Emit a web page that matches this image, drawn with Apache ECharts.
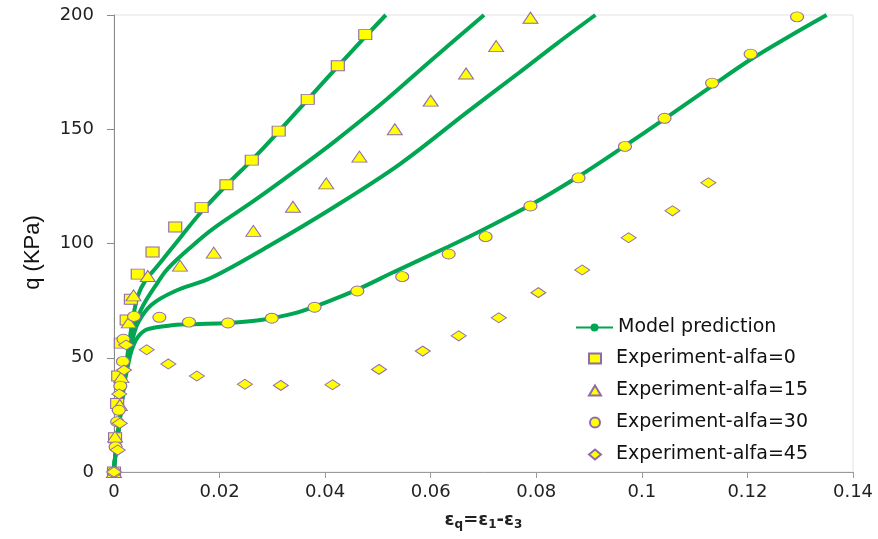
<!DOCTYPE html>
<html>
<head>
<meta charset="utf-8">
<script src="https://cdn.jsdelivr.net/npm/echarts@6/dist/echarts.min.js"></script>
<style>
html,body{margin:0;padding:0;background:#fff;}
#chart{width:878px;height:539px;}
</style>
</head>
<body>
<div id="chart"></div>
<script>
// ---- data ----
var xTicks = [0, 0.02, 0.04, 0.06, 0.08, 0.1, 0.12, 0.14];
var yTicks = [0, 50, 100, 150, 200];

var modelName = 'Model prediction';
var modelA = [[0,0],[0.0001,4],[0.0007,15.5],[0.0013,27],[0.0019,39],[0.0026,52],[0.0035,66],[0.0045,77],[0.006,84],[0.0082,90],[0.0127,103],[0.0166,114],[0.0213,125.5],[0.0261,136.5],[0.0312,149],[0.0367,163],[0.0424,177.5],[0.0476,190.5],[0.0515,200]];
var modelB = [[0,0],[0.0001,4],[0.0007,15.5],[0.0013,27],[0.0019,39],[0.0026,50],[0.0035,60],[0.0051,71],[0.0083,83],[0.0102,89],[0.0146,98.5],[0.0188,106.5],[0.0264,118.5],[0.0339,131],[0.0417,144.5],[0.0511,162],[0.06,180],[0.0701,200]];
var modelC = [[0,0],[0.0001,4],[0.0007,15.5],[0.0013,27],[0.0019,39],[0.0026,48],[0.0033,56],[0.0045,65],[0.007,73],[0.0114,79],[0.0184,85],[0.0291,98.6],[0.0417,116],[0.0543,135],[0.0669,157.5],[0.0766,174.5],[0.0839,187.5],[0.0912,200]];
var modelD = [[0,0],[0.0001,4],[0.0007,15.5],[0.0013,27],[0.0019,38],[0.0026,46],[0.0033,53],[0.0045,59],[0.0064,62.5],[0.0114,64.3],[0.0152,64.7],[0.0215,65.2],[0.0278,66.5],[0.0341,69.4],[0.0404,74.5],[0.0467,80.5],[0.053,87.5],[0.0633,98.6],[0.0704,106.6],[0.0789,116.8],[0.0879,129.2],[0.0967,142.6],[0.1043,154.5],[0.1133,169],[0.1206,180.5],[0.1278,190.5],[0.135,200]];

var expAlfa0 = [[0,0],[0.0002,15],[0.0006,30],[0.0008,42],[0.0013,56.4],[0.0024,66.5],[0.0032,75.6],[0.0045,86.6],[0.0073,96.3],[0.0116,107.2],[0.0166,115.7],[0.0213,125.7],[0.0261,136.5],[0.0312,149.2],[0.0367,163.1],[0.0424,177.8],[0.0476,191.4]];
var expAlfa15 = [[0,0],[0.0002,15.5],[0.0011,29.3],[0.0014,41.5],[0.0028,65.5],[0.0037,77.3],[0.0064,85.8],[0.0125,90.3],[0.0189,96],[0.0264,105.5],[0.0339,116.1],[0.0402,126.3],[0.0465,138],[0.0532,150],[0.06,162.5],[0.0667,174.4],[0.0724,186.4],[0.0789,198.8]];
var expAlfa30 = [[0,0],[0.0003,11],[0.0006,22],[0.0009,27],[0.0012,37.6],[0.0017,48.4],[0.0018,58.1],[0.0038,68.1],[0.0086,67.7],[0.0142,65.6],[0.0216,65.2],[0.0299,67.3],[0.038,72.1],[0.0461,79.2],[0.0546,85.5],[0.0634,95.4],[0.0704,103],[0.0789,116.4],[0.088,128.7],[0.0968,142.5],[0.1043,154.8],[0.1133,170.2],[0.1206,182.9],[0.1294,199.2]];
var expAlfa45 = [[0,0],[0.0007,9.6],[0.0011,21.3],[0.001,34.1],[0.0019,44.6],[0.0023,55.6],[0.0062,53.5],[0.0103,47.3],[0.0157,42],[0.0248,38.4],[0.0316,37.9],[0.0414,38.2],[0.0502,44.9],[0.0585,52.9],[0.0653,59.6],[0.0729,67.5],[0.0804,78.5],[0.0887,88.4],[0.0975,102.5],[0.1058,114.3],[0.1126,126.6]];

var expNames = ['Experiment-alfa=0', 'Experiment-alfa=15', 'Experiment-alfa=30', 'Experiment-alfa=45'];

// ---- chart ----
var FONT = 'DejaVu Sans';
var green = '#00a651';
var markFill = '#ffff00';
var markBorder = '#8f6aae';

function modelSeries(data) {
  return {
    name: modelName, type: 'line', data: data,
    smooth: 0.35,
    symbol: 'circle', symbolSize: 3, showSymbol: false,
    lineStyle: { color: green, width: 4 },
    itemStyle: { color: green },
    z: 2, silent: true, animation: false
  };
}
function expSeries(name, data, symbol, size) {
  return {
    name: name, type: 'scatter', data: data,
    symbol: symbol, symbolSize: size,
    itemStyle: { color: markFill, borderColor: markBorder, borderWidth: 1, opacity: 1 },
    z: 3, animation: false
  };
}

var legendText = { fontFamily: FONT, fontSize: 19, color: '#111' };

var chart = echarts.init(document.getElementById('chart'), null, { renderer: 'canvas' });
chart.setOption({
  backgroundColor: '#ffffff',
  animation: false,
  grid: { left: 114, right: 25, top: 15, bottom: 67, show: true, borderColor: '#e2e2e2', borderWidth: 1, backgroundColor: 'transparent' },
  legend: [
    {
      orient: 'vertical', left: 575, top: 318, padding: 0,
      itemWidth: 37, itemHeight: 10, itemGap: 13,
      data: [modelName],
      textStyle: legendText
    },
    {
      orient: 'vertical', left: 588, top: 349, padding: 0,
      itemWidth: 12, itemHeight: 10, itemGap: 13,
      data: expNames,
      textStyle: Object.assign({ padding: [0, 0, 0, 10] }, legendText)
    }
  ],
  xAxis: {
    type: 'value', min: xTicks[0], max: xTicks[xTicks.length - 1], interval: xTicks[1] - xTicks[0],
    axisLine: { show: true, onZero: false, lineStyle: { color: '#9a9a9a', width: 1 } },
    axisTick: { show: true, length: 6, lineStyle: { color: '#9a9a9a' } },
    splitLine: { show: false },
    axisLabel: { fontFamily: FONT, fontSize: 18, color: '#222', margin: 11,
      formatter: function (v) { return String(parseFloat(v.toFixed(2))); } },
    name: '{b|ε}{s|q}{b|=ε}{s|1}{b|-ε}{s|3}',
    nameLocation: 'middle', nameGap: 38,
    nameTextStyle: {
      rich: {
        b: { fontFamily: FONT, fontSize: 18, fontWeight: 'bold', color: '#222' },
        s: { fontFamily: FONT, fontSize: 12, fontWeight: 'bold', color: '#222', padding: [9, 0, 0, 0] }
      }
    }
  },
  yAxis: {
    type: 'value', min: yTicks[0], max: yTicks[yTicks.length - 1], interval: yTicks[1] - yTicks[0],
    axisLine: { show: true, onZero: false, lineStyle: { color: '#8a8a8a', width: 1 } },
    axisTick: { show: true, length: 7, lineStyle: { color: '#8a8a8a' } },
    splitLine: { show: false },
    axisLabel: { fontFamily: FONT, fontSize: 18, color: '#222', margin: 20 },
    name: 'q (KPa)', nameLocation: 'middle', nameGap: 70,
    nameTextStyle: { fontFamily: 'Liberation Sans', fontSize: 22, color: '#111', padding: [0, 18, 0, 0] }
  },
  series: [
    modelSeries(modelA), modelSeries(modelB), modelSeries(modelC), modelSeries(modelD),
    expSeries(expNames[0], expAlfa0, 'rect', [13, 10]),
    expSeries(expNames[1], expAlfa15, 'triangle', [15, 11]),
    expSeries(expNames[2], expAlfa30, 'circle', [13, 10]),
    expSeries(expNames[3], expAlfa45, 'diamond', [15, 10])
  ]
});
</script>
</body>
</html>
